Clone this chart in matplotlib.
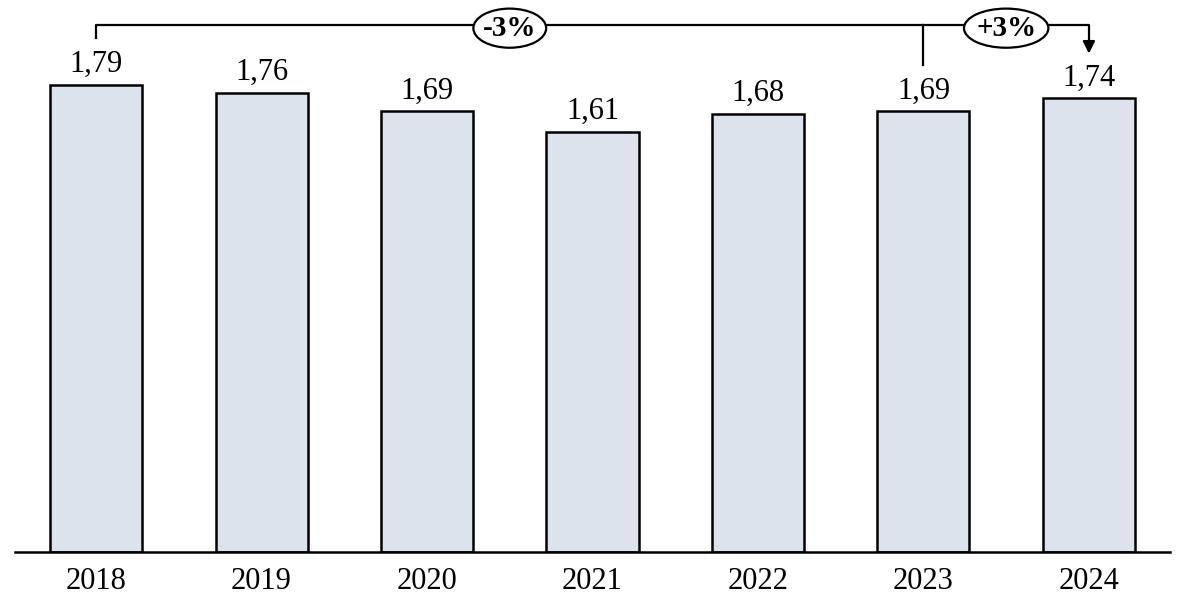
import matplotlib.pyplot as plt
from matplotlib.patches import Ellipse

years = ["2018", "2019", "2020", "2021", "2022", "2023", "2024"]
values = [1.79, 1.76, 1.69, 1.61, 1.68, 1.69, 1.74]
labels = ["1,79", "1,76", "1,69", "1,61", "1,68", "1,69", "1,74"]
change_total = "-3%"
change_last = "+3%"

plt.rcParams['font.family'] = ['Liberation Serif', 'DejaVu Serif']

fig = plt.figure(figsize=(11.86, 6.16), dpi=100)
ax = fig.add_axes([15 / 1186, 64 / 616, 1155 / 1186, 552 / 616])

x = list(range(len(years)))
ax.bar(x, values, width=0.556, color="#dde3ed", edgecolor="black", linewidth=1.8, zorder=2)

for xi, v, lab in zip(x, values, labels):
    ax.text(xi, v + 0.022, lab, ha="center", va="bottom", fontsize=22)

ax.set_xlim(-0.49, 6.49)
ax.set_ylim(0, 2.116)
ax.set_xticks(x)
ax.set_xticklabels(years, fontsize=22)
ax.tick_params(axis="x", length=0, pad=11)
ax.set_yticks([])
for s in ["top", "left", "right"]:
    ax.spines[s].set_visible(False)
ax.spines["bottom"].set_linewidth(1.8)
ax.spines["bottom"].set_zorder(3)

# bracket
y_br = 2.02
ax.plot([0, 0, 6, 6], [1.97, y_br, y_br, 1.93], color="black", lw=1.6, clip_on=False)
ax.annotate("", xy=(6, 1.90), xytext=(6, 1.95),
            arrowprops=dict(arrowstyle="-|>", color="black", lw=1.6, mutation_scale=18))
ax.plot([5, 5], [y_br, 1.865], color="black", lw=1.6)

for xc, w, txt in [(2.5, 0.44, change_total), (5.5, 0.51, change_last)]:
    ax.add_patch(Ellipse((xc, 2.008), w, 0.15, facecolor="white", edgecolor="black", lw=1.6, zorder=4))
    ax.text(xc, 2.008, txt, ha="center", va="center", fontsize=21, fontweight="bold", zorder=5)

fig.savefig("out.png", dpi=100)
